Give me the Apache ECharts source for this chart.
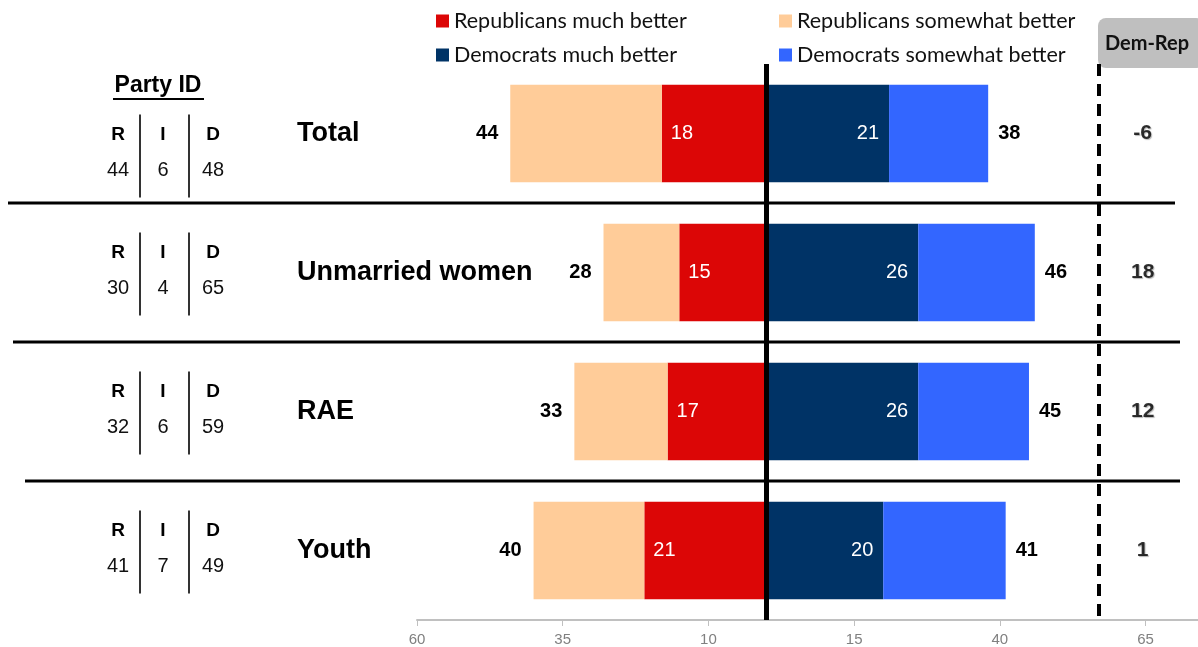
<!DOCTYPE html>
<html>
<head>
<meta charset="utf-8">
<script src="https://cdn.jsdelivr.net/npm/echarts@6/dist/echarts.min.js"></script>
<style>
html,body{margin:0;padding:0;background:#fff;}
#chart{width:1198px;height:647px;}
</style>
</head>
<body>
<div id="chart"></div>
<script>
// ---- data ----
const categories = ['Total', 'Unmarried women', 'RAE', 'Youth'];
const repMuch = [18, 15, 17, 21];
const repTotal = [44, 28, 33, 40];
const demMuch = [21, 26, 26, 20];
const demTotal = [38, 46, 45, 41];
const demRep = [-6, 18, 12, 1];
const partyLetters = ['R', 'I', 'D'];
const partyR = [44, 30, 32, 41];
const partyI = [6, 4, 6, 7];
const partyD = [48, 65, 59, 49];
const seriesNames = ['Republicans much better', 'Republicans somewhat better', 'Democrats much better', 'Democrats somewhat better'];
const axisMin = -60, axisMax = 74, axisInterval = 25;

// ---- layout / style constants ----
const COLORS = { repMuch: '#DC0606', repSome: '#FFCC99', demMuch: '#003366', demSome: '#3366FF' };
const ARIAL = '"Liberation Sans", Arial, sans-serif';
const CAL = 'Lato, "Open Sans", sans-serif';
const DEMREP_X = 64.5;
const DIVIDER_X = 57;

const chart = echarts.init(document.getElementById('chart'), null, { renderer: 'canvas' });

const legendBase = {
  left: 436, padding: 0, itemWidth: 13, itemHeight: 13, itemGap: 18, icon: 'rect',
  selectedMode: false,
  textStyle: { fontFamily: CAL, fontSize: 21.5, color: '#111', width: 307, lineHeight: 24 }
};

const option = {
  animation: false,
  backgroundColor: '#fff',
  legend: [
    Object.assign({}, legendBase, { top: 9, data: [seriesNames[0], seriesNames[1]] }),
    Object.assign({}, legendBase, { top: 43, data: [seriesNames[2], seriesNames[3]] })
  ],
  grid: { left: 417, right: 0, top: 64, height: 556, containLabel: false },
  xAxis: {
    type: 'value', min: axisMin, max: axisMax, interval: axisInterval,
    axisLine: { show: true, lineStyle: { color: '#C0C0C0', width: 2 } },
    axisTick: { show: true, length: 6, lineStyle: { color: '#C0C0C0', width: 1 } },
    splitLine: { show: false },
    axisLabel: {
      showMaxLabel: false, margin: 12,
      color: '#808080', fontSize: 15, fontFamily: ARIAL,
      formatter: v => String(Math.abs(v))
    }
  },
  yAxis: {
    type: 'category', data: categories, inverse: true,
    axisLine: { show: false }, axisTick: { show: false }, splitLine: { show: false },
    axisLabel: { align: 'left', margin: 120, color: '#000', fontSize: 27, fontWeight: 'bold', fontFamily: ARIAL }
  },
  series: [
    {
      name: seriesNames[0], type: 'bar', stack: 'all', barWidth: '70%',
      itemStyle: { color: COLORS.repMuch },
      data: repMuch.map(v => -v),
      label: { show: true, position: 'insideLeft', distance: 9, color: '#fff', fontSize: 20, fontFamily: ARIAL,
        formatter: p => String(repMuch[p.dataIndex]) }
    },
    {
      name: seriesNames[1], type: 'bar', stack: 'all', barWidth: '70%',
      itemStyle: { color: COLORS.repSome },
      data: repTotal.map((t, i) => -(t - repMuch[i])),
      label: { show: true, position: 'left', distance: 12, color: '#000', fontSize: 20, fontWeight: 'bold', fontFamily: ARIAL,
        formatter: p => String(repTotal[p.dataIndex]) }
    },
    {
      name: seriesNames[2], type: 'bar', stack: 'all', barWidth: '70%',
      itemStyle: { color: COLORS.demMuch },
      data: demMuch.slice(),
      label: { show: true, position: 'insideRight', distance: 10, color: '#fff', fontSize: 20, fontFamily: ARIAL,
        formatter: p => String(demMuch[p.dataIndex]) }
    },
    {
      name: seriesNames[3], type: 'bar', stack: 'all', barWidth: '70%',
      itemStyle: { color: COLORS.demSome },
      data: demTotal.map((t, i) => t - demMuch[i]),
      label: { show: true, position: 'right', distance: 10, color: '#000', fontSize: 20, fontWeight: 'bold', fontFamily: ARIAL,
        formatter: p => String(demTotal[p.dataIndex]) }
    },
    {
      name: 'Dem-Rep', type: 'scatter', z: 5, silent: true,
      symbolSize: 2, itemStyle: { color: 'rgba(255,255,255,0)' },
      encode: { x: 0, y: 1 },
      data: demRep.map((v, i) => [DEMREP_X, categories[i], v]),
      label: { show: true, position: 'inside', color: '#000', fontSize: 21, fontWeight: 'bold', fontFamily: ARIAL,
        textShadowColor: 'rgba(0,0,0,0.35)', textShadowOffsetX: 1, textShadowOffsetY: 1, textShadowBlur: 1,
        formatter: p => String(p.value[2]) },
      markLine: {
        silent: true, symbol: ['none', 'none'], label: { show: false }, z: 6,
        data: [
          { xAxis: 0, lineStyle: { color: '#000', width: 5, type: 'solid' } },
          { xAxis: DIVIDER_X, lineStyle: { color: '#000', width: 4, type: [12, 8] } }
        ]
      }
    }
  ]
};

chart.setOption(option);

// ---- graphic overlays positioned from the category axis ----
const cy = categories.map(c => chart.convertToPixel({ yAxisIndex: 0 }, c));
const graphics = [];
// Party ID header
graphics.push({ type: 'text', x: 158, y: 86, style: { text: 'Party ID', fontSize: 23, fontWeight: 'bold', fontFamily: ARIAL, fill: '#000', align: 'center', verticalAlign: 'middle' } });
graphics.push({ type: 'line', shape: { x1: 113, y1: 99, x2: 204, y2: 99 }, style: { stroke: '#000', lineWidth: 2 } });
const colX = [118, 163, 213];
const sepX = [140, 189];
categories.forEach((c, i) => {
  const shift = i === 0 ? 21 : 0;
  const y = cy[i] + shift;
  const nums = [partyR[i], partyI[i], partyD[i]];
  partyLetters.forEach((L, k) => {
    graphics.push({ type: 'text', x: colX[k], y: y - 20, style: { text: L, fontSize: 19, fontWeight: 'bold', fontFamily: ARIAL, fill: '#000', align: 'center', verticalAlign: 'middle' } });
    graphics.push({ type: 'text', x: colX[k], y: y + 16, style: { text: String(nums[k]), fontSize: 20, fontFamily: ARIAL, fill: '#111', align: 'center', verticalAlign: 'middle' } });
  });
  sepX.forEach(x => {
    graphics.push({ type: 'line', shape: { x1: x, y1: y - 40, x2: x, y2: y + 43 }, style: { stroke: '#333', lineWidth: 2 } });
  });
});
// row separators
const sepRanges = [[8, 1175], [13, 1180], [25, 1180]];
for (let i = 0; i < categories.length - 1; i++) {
  const y = (cy[i] + cy[i + 1]) / 2;
  graphics.push({ type: 'line', z: 10, shape: { x1: sepRanges[i][0], y1: y, x2: sepRanges[i][1], y2: y }, style: { stroke: '#000', lineWidth: 3 } });
}
// Dem-Rep header box
graphics.push({ type: 'rect', shape: { x: 1098, y: 18, width: 106, height: 50, r: 8 }, style: { fill: '#BFBFBF' } });
graphics.push({ type: 'text', x: 1147, y: 44, style: { text: 'Dem-Rep', fontSize: 20, fontWeight: 'bold', fontFamily: CAL, fill: '#111', align: 'center', verticalAlign: 'middle' } });

chart.setOption({ graphic: graphics });
</script>
</body>
</html>
